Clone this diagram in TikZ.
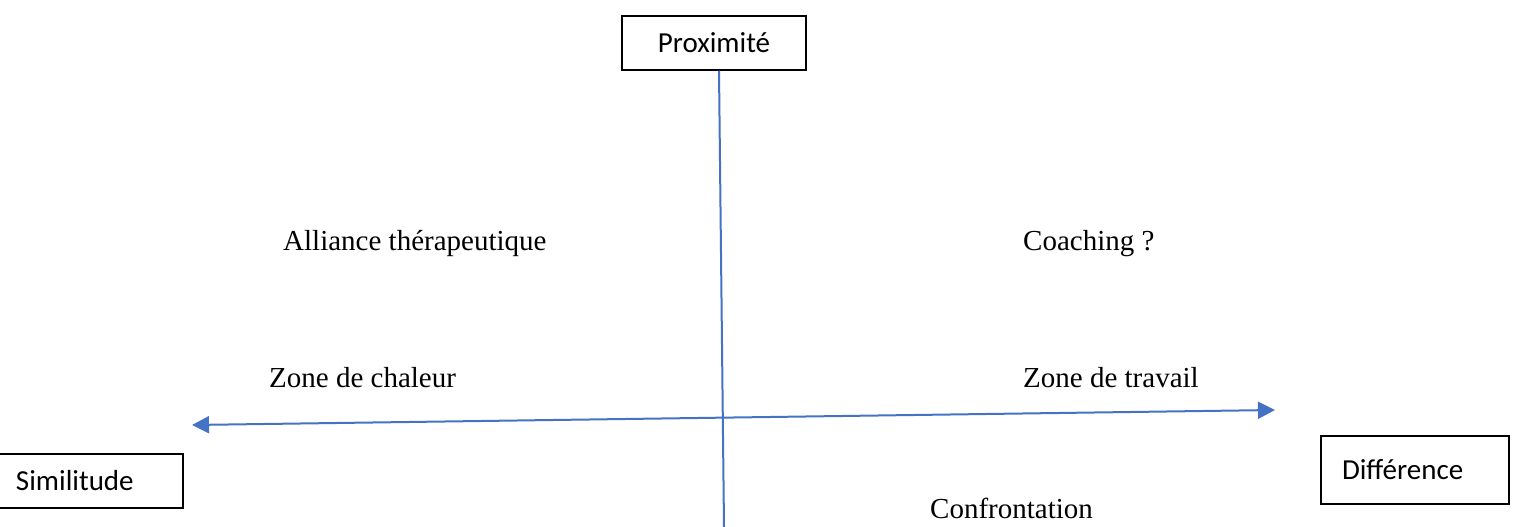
\documentclass[tikz,border=0pt]{standalone}
\usepackage{fontspec}
\setmainfont{Liberation Serif}
\newfontfamily\boxfont{Carlito}
\usetikzlibrary{arrows.meta}
\usetikzlibrary{positioning}

\begin{document}
\begin{tikzpicture}
            [x=1pt, y=-1pt,
            pole/.style={draw, line width=1.3pt, minimum height=54pt, inner ysep=0pt,
                font=\boxfont\fontsize{29}{30}\selectfont},
            zone/.style={anchor=base west, inner sep=0pt, font=\fontsize{29}{30}\selectfont},
            axis/.style={line width=2pt, axiscolor},
            ]
            \definecolor{axiscolor}{HTML}{4472C4}
            \useasboundingbox (0,0) rectangle (1516,527);

            % the three poles
            \node[pole, minimum width=184pt] (prox) at (714,43) {Proximité};
            \node[pole, minimum width=185pt, text width=149pt, inner xsep=18pt, align=left] (simi) at (90.5,481) {Similitude};
            \node[pole, minimum width=188pt, minimum height=68pt, text width=146pt, inner xsep=21pt, align=left] (diff) at (1415,470) {Différence};

            % axes
            \coordinate (bottom) at (724,527);
            \coordinate (left) at (192,425);
            \coordinate (right) at (1275,410);
            \draw[axis] ([xshift=5pt]prox.south) -- (bottom);
            \draw[axis, {Triangle[length=17pt, width=17pt]}-{Triangle[length=17pt, width=17pt]}] (left) -- (right);

            % zones
            \node[zone] (alliance) at (283,250) {Alliance thérapeutique};
            \node[zone] (coaching) at (1023,250) {Coaching ?};
            \node[zone] (chaleur) at (269,387) {Zone de chaleur};
            \node[zone] (travail) at (1023,387) {Zone de travail};
            \node[zone] (confront) at (930,518) {Confrontation};
\end{tikzpicture}
\end{document}
